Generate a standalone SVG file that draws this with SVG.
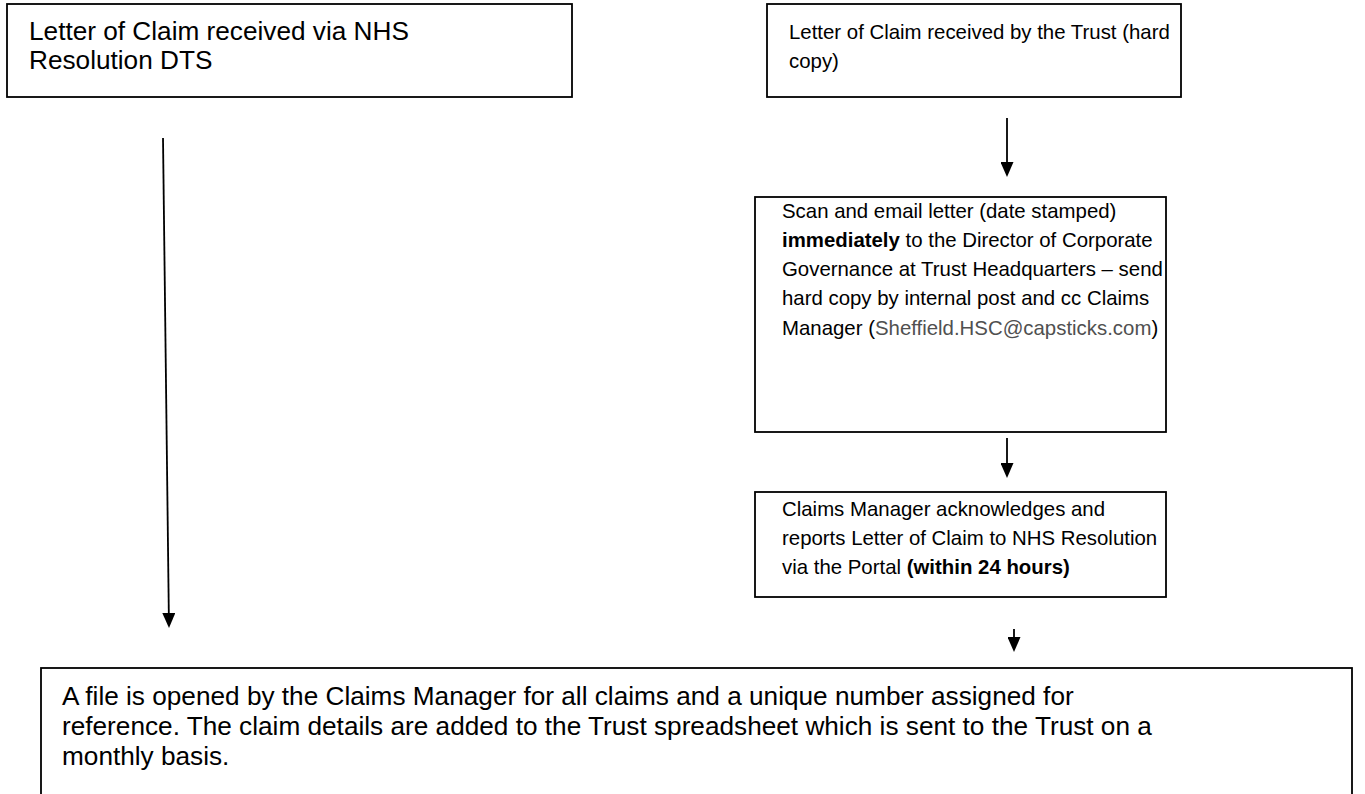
<svg xmlns="http://www.w3.org/2000/svg" width="1365" height="794" viewBox="0 0 1365 794">
<style>
.box{fill:#fff;stroke:#000;stroke-width:1.8}
.t{font-family:"Liberation Sans",Arial,sans-serif;fill:#000}
.big{font-size:26.2px}
.sm{font-size:20.4px}
.b{font-weight:bold}
.em{fill:#505050}
.c{stroke:#000;stroke-width:1.8;fill:none}
</style>
<defs>
<marker id="ah" markerUnits="userSpaceOnUse" markerWidth="15" markerHeight="13" viewBox="0 0 15 13" refX="7" refY="6.5" orient="auto"><path d="M0,0 L15,6.5 L0,13 z" fill="#000"/></marker>
</defs>
<rect width="1365" height="794" fill="#fff"/>
<g id="connectors">
<line class="c" x1="163" y1="138" x2="168.9" y2="620" marker-end="url(#ah)"/>
<line class="c" x1="1007" y1="118" x2="1007" y2="169" marker-end="url(#ah)"/>
<line class="c" x1="1007" y1="438" x2="1007" y2="470" marker-end="url(#ah)"/>
<line class="c" x1="1014" y1="629" x2="1014" y2="644" marker-end="url(#ah)"/>
</g>
<g id="node-dts">
<rect class="box" x="7" y="4" width="565" height="93"/>
<text class="t big" x="29" y="40">Letter of Claim received via NHS</text>
<text class="t big" x="29" y="69">Resolution DTS</text>
</g>
<g id="node-hardcopy">
<rect class="box" x="767" y="4" width="414" height="93"/>
<text class="t sm" x="789" y="39">Letter of Claim received by the Trust (hard</text>
<text class="t sm" x="789" y="68">copy)</text>
</g>
<g id="node-scan">
<rect class="box" x="755" y="197" width="411" height="235"/>
<text class="t sm" x="782" y="218">Scan and email letter (date stamped)</text>
<text class="t sm" x="782" y="247"><tspan class="b">immediately</tspan> to the Director of Corporate</text>
<text class="t sm" x="782" y="276">Governance at Trust Headquarters – send</text>
<text class="t sm" x="782" y="305">hard copy by internal post and cc Claims</text>
<text class="t sm" x="782" y="335">Manager (<tspan class="em">Sheffield.HSC@capsticks.com</tspan>)</text>
</g>
<g id="node-ack">
<rect class="box" x="755" y="492" width="411" height="105"/>
<text class="t sm" x="782" y="516">Claims Manager acknowledges and</text>
<text class="t sm" x="782" y="545">reports Letter of Claim to NHS Resolution</text>
<text class="t sm" x="782" y="574">via the Portal <tspan class="b">(within 24 hours)</tspan></text>
</g>
<g id="node-file">
<rect class="box" x="41" y="668" width="1311" height="140"/>
<text class="t big" x="62" y="705">A file is opened by the Claims Manager for all claims and a unique number assigned for</text>
<text class="t big" x="62" y="735">reference. The claim details are added to the Trust spreadsheet which is sent to the Trust on a</text>
<text class="t big" x="62" y="765">monthly basis.</text>
</g>
</svg>
